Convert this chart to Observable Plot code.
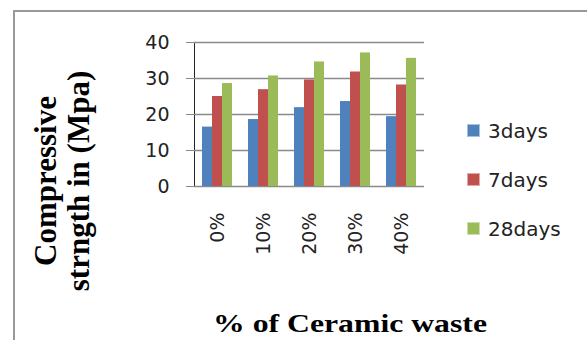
<!DOCTYPE html>
<html>
<head>
<meta charset="utf-8">
<script src="https://cdn.jsdelivr.net/npm/d3@7"></script>
<script src="https://cdn.jsdelivr.net/npm/@observablehq/plot@0.6"></script>
<style>
  html, body { margin: 0; padding: 0; background: #fff; overflow: hidden; }
  #wrap { position: relative; width: 587px; height: 340px; overflow: hidden; }
  #border { position: absolute; left: 13px; top: 10px; width: 600px; height: 400px;
            border-left: 2px solid #999; border-top: 2px solid #999; }
  #chart { position: absolute; left: 0; top: 0; }
  #chart svg [aria-label="y-axis tick"] path,
  #chart svg [aria-label="y-axis tick"] line { stroke: #8a8a8a; }
  .ytitle { position: absolute; left: 62px; top: 181px; transform: translate(-50%, -50%) rotate(-90deg);
            font-family: "Liberation Serif", serif; font-weight: bold; font-size: 31px; line-height: 33px;
            text-align: center; white-space: nowrap; color: #000; }
  .xtitle { position: absolute; left: 350px; top: 310px; transform: translateX(-50%) scaleX(1.22);
            font-family: "Liberation Serif", serif; font-weight: bold; font-size: 26px; line-height: 28px;
            white-space: nowrap; color: #000; }
  .legend { position: absolute; left: 467px; top: 106px; font-family: "DejaVu Sans", sans-serif; font-size: 20px; color: #222; }
  .legend .row { display: flex; align-items: center; height: 49px; }
  .legend .sw { width: 13px; height: 13px; margin-right: 8px; box-sizing: border-box; border: 1px solid rgba(255,255,255,0.5); }
</style>
</head>
<body>
<div id="wrap">
  <div id="border"></div>
  <div id="chart"></div>
  <div class="ytitle">Compressive<br>strngth in (Mpa)</div>
  <div class="xtitle">% of Ceramic waste</div>
  <div class="legend" id="legend"></div>
</div>
<script>
const categories = ["0%", "10%", "20%", "30%", "40%"];
const series = ["3days", "7days", "28days"];
const days3 = [16.5, 18.6, 21.9, 23.6, 19.4];
const days7 = [25.0, 26.9, 29.6, 31.8, 28.2];
const days28 = [28.6, 30.7, 34.6, 37.1, 35.6];
const yTicks = [0, 10, 20, 30, 40];
const colors = ["#4F81BD", "#C0504D", "#9BBB59"];

const values = [days3, days7, days28];
const data = [];
categories.forEach((c, i) => {
  series.forEach((s, j) => data.push({cat: c, series: s, value: values[j][i]}));
});

const chart = Plot.plot({
  width: 587,
  height: 340,
  marginLeft: 193,
  marginRight: 162,
  marginTop: 42,
  marginBottom: 154,
  style: {fontFamily: "DejaVu Sans, sans-serif", fontSize: "19px", color: "#222", background: "transparent"},
  fx: {domain: categories, paddingInner: 0, paddingOuter: 0, axis: "bottom", label: null,
       tickRotate: -90, tickSize: 0, tickPadding: 26},
  x: {domain: series, paddingInner: 0, paddingOuter: 0.74, axis: null},
  y: {domain: [0, 40], ticks: yTicks, tickSize: 8, tickPadding: 17, label: null, line: true},
  color: {domain: series, range: colors},
  marks: [
    Plot.ruleY(yTicks, {stroke: "#8a8a8a", strokeWidth: 1.5}),
    Plot.barY(data, {fx: "cat", x: "series", y: "value", fill: "series"})
  ]
});
document.getElementById("chart").appendChild(chart);

const legend = document.getElementById("legend");
series.forEach((s, j) => {
  const row = document.createElement("div");
  row.className = "row";
  const sw = document.createElement("div");
  sw.className = "sw";
  sw.style.background = colors[j];
  const t = document.createElement("span");
  t.textContent = s;
  row.appendChild(sw);
  row.appendChild(t);
  legend.appendChild(row);
});
</script>
</body>
</html>
